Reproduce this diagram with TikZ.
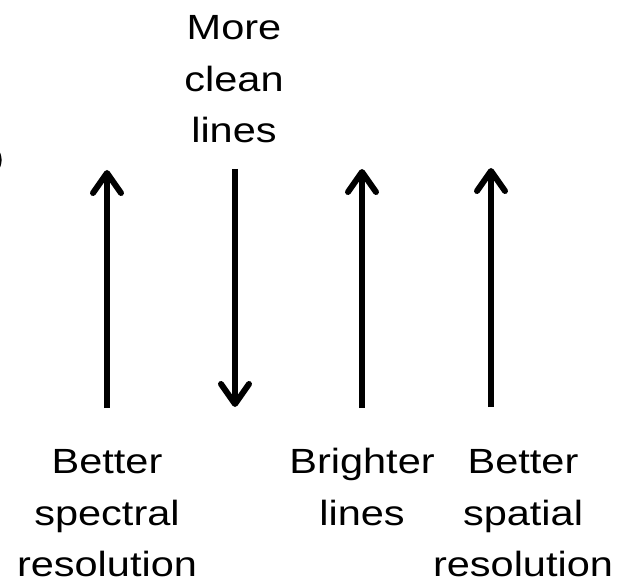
\documentclass[tikz,border=0pt]{standalone}
\usepackage{fontspec}
\setmainfont[FakeStretch=1.186]{Liberation Sans}
\usetikzlibrary{arrows.meta}
\begin{document}
\begin{tikzpicture}[x=1pt,y=1pt,
  lbl/.style={font=\fontsize{35}{51.5}\selectfont, align=center, inner sep=0pt, anchor=base},
  arr/.style={line width=6pt, -{Straight Barb[length=20pt, width=28pt, line cap=round, line join=round]}}]
\useasboundingbox (0,0) rectangle (617,581);
% fragment of a cut-off bracket at the left edge
\draw[line width=3pt] (-4,433) .. controls (1.5,424) and (1.5,418) .. (-4,409);
% texts (anchored at the baseline of their last line)
\node[lbl] (clean) at (234,438) {More\\clean\\lines};
\node[lbl] (spec) at (107,4.5) {Better\\spectral\\resolution};
\node[lbl] (bright) at (362,56) {Brighter\\lines};
\node[lbl] (spat) at (523,4.5) {Better\\spatial\\resolution};
% arrows
\coordinate (a1s) at (107,173); \coordinate (a1e) at (107,411);
\coordinate (a2s) at (235,412); \coordinate (a2e) at (235,174);
\coordinate (a3s) at (362,173); \coordinate (a3e) at (362,412);
\coordinate (a4s) at (491,174); \coordinate (a4e) at (491,413);
\draw[arr] (a1s) -- (a1e);
\draw[arr] (a2s) -- (a2e);
\draw[arr] (a3s) -- (a3e);
\draw[arr] (a4s) -- (a4e);
\end{tikzpicture}
\end{document}
